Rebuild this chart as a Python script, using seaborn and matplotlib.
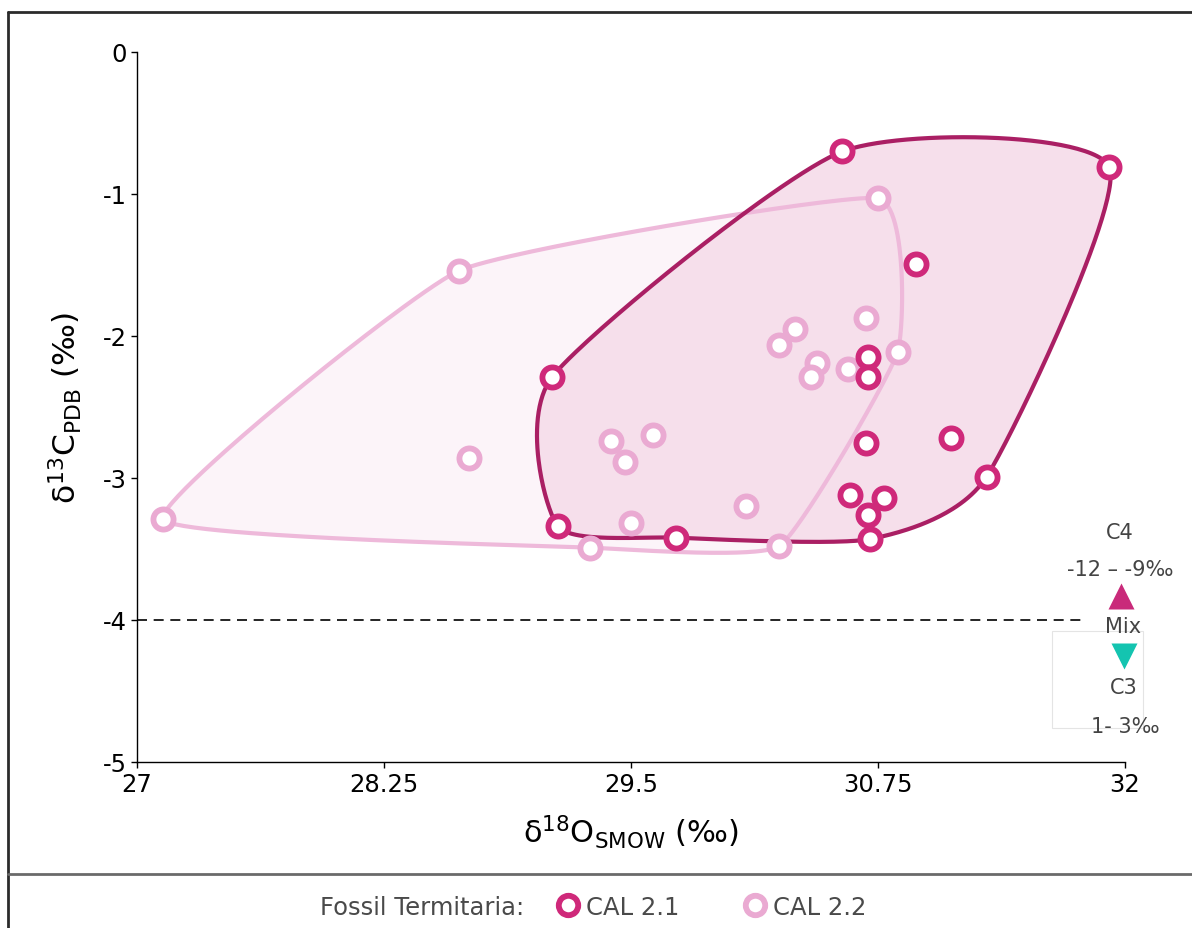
import numpy as np
import pandas as pd
import matplotlib
matplotlib.use("Agg")
import matplotlib.pyplot as plt
from matplotlib.lines import Line2D
from matplotlib.patches import Rectangle
import seaborn as sns

# Isotope values of the fossil termitaria samples (per mil)
cal21_d18o = [30.57, 31.92, 30.94, 29.10, 30.70, 30.70, 30.69, 31.12, 31.30,
              29.13, 29.73, 30.61, 30.78, 30.70, 30.71]
cal21_d13c = [-0.70, -0.81, -1.49, -2.29, -2.15, -2.29, -2.75, -2.72, -2.99,
              -3.34, -3.42, -3.12, -3.14, -3.26, -3.43]

cal22_d18o = [28.63, 27.13, 28.68, 30.75, 30.33, 30.25, 30.69, 30.85, 30.44,
              30.41, 30.60, 29.40, 29.61, 29.47, 30.08, 29.50, 29.29, 30.25]
cal22_d13c = [-1.54, -3.29, -2.86, -1.03, -1.95, -2.06, -1.87, -2.11, -2.19,
              -2.29, -2.23, -2.74, -2.70, -2.89, -3.20, -3.32, -3.49, -3.48]

groups = ["CAL 2.1", "CAL 2.2"]
x_ticks = [27, 28.25, 29.5, 30.75, 32]
x_tick_labels = ["27", "28.25", "29.5", "30.75", "32"]
y_ticks = [0, -1, -2, -3, -4, -5]
y_tick_labels = ["0", "-1", "-2", "-3", "-4", "-5"]
mix_threshold = -4

ring_colors = {"CAL 2.1": "#CF297A", "CAL 2.2": "#EAAAD2"}
hull_line_colors = {"CAL 2.1": "#AA1F64", "CAL 2.2": "#EEB9DA"}
hull_fill_colors = {"CAL 2.1": "#F6DFEB", "CAL 2.2": "#FCF4F9"}
hull_smoothing = {"CAL 2.1": 0.32, "CAL 2.2": 0.2}

df = pd.concat([
    pd.DataFrame({"d18O": cal21_d18o, "d13C": cal21_d13c, "group": groups[0]}),
    pd.DataFrame({"d18O": cal22_d18o, "d13C": cal22_d13c, "group": groups[1]}),
], ignore_index=True)

sns.set_theme(style="white")
plt.rcParams["font.family"] = ["DejaVu Sans"]
plt.rcParams["axes.unicode_minus"] = False

W, H = 1192, 929
fig = plt.figure(figsize=(W / 100, H / 100), dpi=100)
ax = fig.add_axes([137 / W, 1 - 763 / H, 988 / W, 710 / H])
ax.set_xlim(27, 32)
ax.set_ylim(-5, 0)


def convex_hull(p):
    idx = sorted(range(len(p)), key=lambda i: (p[i][0], p[i][1]))
    def cross(o, a, b):
        return (a[0] - o[0]) * (b[1] - o[1]) - (a[1] - o[1]) * (b[0] - o[0])
    lower, upper = [], []
    for i in idx:
        while len(lower) >= 2 and cross(p[lower[-2]], p[lower[-1]], p[i]) <= 0:
            lower.pop()
        lower.append(i)
    for i in reversed(idx):
        while len(upper) >= 2 and cross(p[upper[-2]], p[upper[-1]], p[i]) <= 0:
            upper.pop()
        upper.append(i)
    return np.array([p[i] for i in lower[:-1] + upper[:-1]])


def cardinal_closed(pts, s=0.25, n=60):
    """Closed cardinal spline through pts; s scales the tangents."""
    k = len(pts)
    t = np.linspace(0, 1, n, endpoint=False)[:, None]
    h00 = 2 * t**3 - 3 * t**2 + 1
    h10 = t**3 - 2 * t**2 + t
    h01 = -2 * t**3 + 3 * t**2
    h11 = t**3 - t**2
    out = []
    for i in range(k):
        p0, p1, p2, p3 = pts[(i - 1) % k], pts[i], pts[(i + 1) % k], pts[(i + 2) % k]
        m1 = s * (p2 - p0)
        m2 = s * (p3 - p1)
        out.append(h00 * p1 + h10 * m1 + h01 * p2 + h11 * m2)
    out = np.vstack(out)
    return np.vstack([out, out[:1]])


def smooth_hull(sub, s):
    disp = ax.transData.transform(sub[["d18O", "d13C"]].to_numpy())
    hull = convex_hull([tuple(r) for r in disp])
    curve = cardinal_closed(hull, s=s)
    return ax.transData.inverted().transform(curve)


curves = {g: smooth_hull(df[df["group"] == g], hull_smoothing[g]) for g in groups}

# Envelopes: pale fills first, then outlines
ax.fill(curves["CAL 2.2"][:, 0], curves["CAL 2.2"][:, 1],
        color=hull_fill_colors["CAL 2.2"], lw=0, zorder=1)
ax.fill(curves["CAL 2.1"][:, 0], curves["CAL 2.1"][:, 1],
        color=hull_fill_colors["CAL 2.1"], lw=0, zorder=1.1)
ax.plot(curves["CAL 2.2"][:, 0], curves["CAL 2.2"][:, 1],
        color=hull_line_colors["CAL 2.2"], lw=3, zorder=2, solid_capstyle="round")
ax.plot(curves["CAL 2.1"][:, 0], curves["CAL 2.1"][:, 1],
        color=hull_line_colors["CAL 2.1"], lw=3, zorder=2.1, solid_capstyle="round")

# Threshold between mixed and C3-dominated diets
ax.axhline(mix_threshold, xmin=0, xmax=(31.78 - 27) / 5, color="black",
           lw=1.2, ls=(0, (6, 4)), zorder=1.5)

# Hollow ring markers for each sample set
for g, z in [("CAL 2.2", 3), ("CAL 2.1", 4)]:
    sns.scatterplot(data=df[df["group"] == g], x="d18O", y="d13C", ax=ax,
                    s=210, color="white", edgecolor=ring_colors[g],
                    linewidth=4.2, zorder=z, legend=False)

ax.set_xticks(x_ticks)
ax.set_xticklabels(x_tick_labels)
ax.set_yticks(y_ticks)
ax.set_yticklabels(y_tick_labels)
ax.tick_params(axis="both", which="major", direction="out", length=4, width=1,
               color="black", labelsize=17.5, labelcolor="black", pad=3,
               bottom=True, left=True)
for s in ["top", "right"]:
    ax.spines[s].set_visible(False)
for s in ["left", "bottom"]:
    ax.spines[s].set_color("black")
    ax.spines[s].set_linewidth(1)

ax.set_xlabel(r"$\mathregular{\delta^{18}O_{SMOW}}$ (‰)", fontsize=22,
              color="black", labelpad=12)
ax.set_ylabel(r"$\mathregular{\delta^{13}C_{PDB}}$ (‰)", fontsize=22.5,
              color="black", labelpad=14)

# Diet key on the right
note_color = "#444444"
for txt, xp, yp in [("C4", 1120, 533), ("-12 – -9‰", 1120, 570),
                    ("Mix", 1123, 627), ("C3", 1124, 688), ("1- 3‰", 1125, 727)]:
    fig.text(xp / W, 1 - yp / H, txt, ha="center", va="center",
             fontsize=15, color=note_color)
fig.add_artist(Line2D([1121 / W], [1 - 597 / H], marker="^", ms=19,
                      color="#C92A7A", mec="none", ls="none"))
fig.add_artist(Line2D([1124 / W], [1 - 657 / H], marker="v", ms=19,
                      color="#14C4B0", mec="none", ls="none"))
fig.add_artist(Rectangle((1052 / W, 1 - 729 / H), 91 / W, 97 / H,
                         transform=fig.transFigure, fill=False,
                         ec="#E4E4E4", lw=0.8))

# Frame and separator
frame_kw = dict(color="#2B2B2B", lw=2, transform=fig.transFigure)
fig.add_artist(Line2D([8 / W, 1], [1 - 13 / H, 1 - 13 / H], **frame_kw))
fig.add_artist(Line2D([8 / W, 8 / W], [1 - 13 / H, 0], **frame_kw))
fig.add_artist(Line2D([8 / W, 1], [1 - 875 / H, 1 - 875 / H],
                      color="#6A6A6A", lw=2, transform=fig.transFigure))

# Legend
fig.text(320 / W, 1 - 908 / H, "Fossil Termitaria:", ha="left", va="center",
         fontsize=17.5, color="#4A4A4A")
handles = [Line2D([], [], marker="o", ls="none", ms=14, mfc="white",
                  mec=ring_colors[g], mew=4.2) for g in groups]
fig.legend(handles, groups, loc="center left",
           bbox_to_anchor=(556 / W, 1 - 908 / H), ncol=2, frameon=False,
           fontsize=17.5, labelcolor="#4A4A4A", handletextpad=0.25,
           columnspacing=2.6, handlelength=1.0, borderaxespad=0, borderpad=0)

fig.savefig("out.png", dpi=100, facecolor="white")
